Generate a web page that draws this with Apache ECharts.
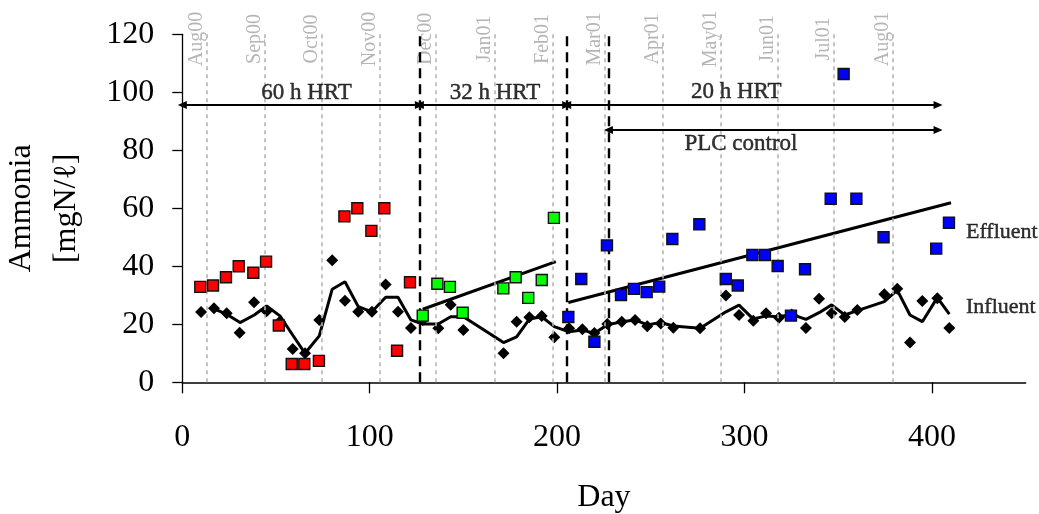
<!DOCTYPE html>
<html>
<head>
<meta charset="utf-8">
<script src="https://cdn.jsdelivr.net/npm/echarts@6/dist/echarts.min.js"></script>
<style>
  html, body { margin: 0; padding: 0; background: #fff; }
  #chart { width: 1039px; height: 514px; }
</style>
</head>
<body>
<div id="chart"></div>
<script>
// Influent ammonia samples [day, mgN/l]
const influentPoints = [
  [10, 24.2], [16.9, 25.5], [23.7, 23.8], [30.6, 17.1], [38.3, 27.6], [45, 24.5], [52.1, 21],
  [58.9, 11.5], [65.5, 10], [73.1, 21.5], [80, 42.1], [86.8, 28.1], [93.9, 24.3], [101.2, 24.3],
  [108.5, 33.7], [115.1, 24.3], [122, 18.7],
  [128.3, 21.5], [136.6, 18.6], [143.2, 26.7], [150, 18], [171.4, 10], [178.4, 20.9], [185.2, 22.4],
  [191.8, 22.9], [198.5, 15.5],
  [206.4, 18.6], [213.5, 18.3], [219.9, 17], [226.8, 20.1], [234.5, 20.9], [241.6, 21.5], [248.1, 19.3],
  [255.3, 20.3], [262, 18.8], [276.3, 18.6], [290.1, 29.9], [297.1, 23.2], [304.7, 21.2], [311.5, 23.8],
  [318.4, 22.3], [325.2, 23.4], [332.8, 18.7], [339.8, 28.8], [346.5, 23.8], [353.5, 22.5], [360.2, 24.9],
  [374.6, 30.4], [381.5, 32.3], [388.3, 13.7], [394.9, 28], [402.9, 29], [409.3, 18.7]
];

// Influent moving-average curve [day, mgN/l]
const influentAverage = [
  [16.9, 25.3], [23.7, 23.5], [30.8, 20.6], [38.4, 23.2], [45, 26.3], [52.1, 22.9], [58.9, 16.3],
  [65.5, 10], [73.1, 16], [80, 32.1], [86.8, 34.7], [93.9, 26.1], [101.2, 24.3], [108.5, 29.3],
  [115.1, 29.3], [122, 21.5], [128.3, 20.1], [136.6, 20.1], [143.2, 22.6], [150, 22.6], [171.4, 13.7],
  [178.4, 15.7], [185.2, 21.8], [191.8, 22.6], [198.5, 19.2], [206.4, 17.4], [213.5, 18], [219.9, 16.9],
  [226.8, 19.8], [234.5, 20.9], [241.6, 21.5], [248.1, 19.8], [255.3, 20.6], [262, 19.4], [276.3, 18.6],
  [290.1, 24.3], [297.1, 26.6], [304.7, 21.8], [311.5, 22.9], [318.4, 22.6], [325.2, 23.4], [332.8, 21.7],
  [339.8, 24], [346.5, 26.7], [353.5, 23.2], [360.2, 24.7], [374.6, 27.8], [381.5, 31.8], [388.3, 23.2],
  [394.9, 20.9], [402.9, 29.2], [409.3, 23.5]
];

// Effluent ammonia per operating period [day, mgN/l]
const effluent60h = [
  [9.6, 32.9], [16.4, 33.4], [23.3, 36.2], [30.1, 40], [37.9, 37.8], [44.7, 41.6], [51.5, 19.6],
  [58.4, 6.3], [65.1, 6.3], [72.9, 7.4], [86.5, 57.2], [93.4, 60], [100.9, 52.2], [107.8, 60],
  [114.6, 10.9], [121.5, 34.5]
];
const effluent32h = [
  [128.3, 23], [136.1, 34], [142.8, 32.9], [149.6, 24], [171.3, 32.4], [177.9, 36.2], [184.6, 29.1],
  [191.8, 35.3], [198.3, 56.7]
];
const effluent20h = [
  [206, 22.5], [212.9, 35.6], [219.9, 14], [226.6, 47.2], [234.1, 30.1], [241, 32.2], [247.8, 31.1],
  [254.5, 33], [261.5, 49.4], [275.9, 54.5], [290, 35.6], [296.4, 33.4], [304.2, 43.9], [310.9, 43.9],
  [317.7, 40.1], [324.8, 23], [332.3, 39], [346, 63.3], [352.9, 106.3], [359.7, 63.3], [374.2, 50],
  [402.3, 46.1], [409.1, 55]
];

// Linear effluent trends
const trend32h = [[128.3, 25.2], [199.3, 41.6]];
const trend20h = [[206, 27.5], [410.2, 61.9]];

// Start of each calendar month (day number) and its tag
const monthDays = [13, 44, 74.6, 105.5, 135.2, 166.9, 197.7, 225.6, 256.3, 287.3, 317.7, 347.8, 379.1];
const monthNames = ['Aug00', 'Sep00', 'Oct00', 'Nov00', 'Dec00', 'Jan01', 'Feb01', 'Mar01',
                    'Apr01', 'May01', 'Jun01', 'Jul01', 'Aug01'];
const monthTagLevel = 118.4;

// Period boundaries (day) and period spans [from day, to day, level]
const phaseBounds = [126.5, 205.1, 227.4];
const phaseSpans = [[0, 126.5, 95.6], [126.5, 205.1, 95.6], [205.1, 403.3, 95.6], [227.4, 403.3, 87]];

// Period captions [day, level] and their texts
const captionAnchors = [[66.3, 99.9], [166.9, 99.9], [295.6, 100.1], [298.1, 82.3]];
const captionTexts = ['60 h HRT', '32 h HRT', '20 h HRT', 'PLC control'];

// Series tags at the right [day, level]
const seriesTagAnchors = [[418.2, 51.9], [418.2, 26]];
const seriesTagTexts = ['Effluent', 'Influent'];

const xTicks = [0, 100, 200, 300, 400];

const SERIF = "'Liberation Serif', 'Times New Roman', 'DejaVu Serif', serif";

const chart = echarts.init(document.getElementById('chart'), null, { renderer: 'canvas' });

function squares(data, color) {
  return {
    type: 'scatter',
    data: data,
    symbol: 'rect',
    symbolSize: 11,
    itemStyle: { color: color, borderColor: '#111', borderWidth: 1.4, opacity: 1 },
    z: 5
  };
}

function textMarks(anchors, texts, labelCfg) {
  return {
    type: 'scatter',
    data: anchors.map((a, i) => ({ value: a, name: texts[i] })),
    symbolSize: 1,
    itemStyle: { color: 'rgba(0,0,0,0)' },
    silent: true,
    z: 6,
    label: Object.assign({
      show: true,
      formatter: p => p.name,
      color: '#000',
      textBorderColor: '#000',
      textBorderWidth: 0.45,
      fontFamily: SERIF
    }, labelCfg)
  };
}

chart.setOption({
  animation: false,
  backgroundColor: '#fff',
  grid: {
    left: 182.3, right: 13.4, top: 34.3, bottom: 131.7,
    containLabel: false, outerBoundsMode: 'none'
  },
  xAxis: {
    type: 'value',
    min: 0, max: 450, interval: 100,
    name: 'Day',
    nameLocation: 'middle',
    nameGap: 99,
    nameMoveOverlap: false,
    nameTextStyle: { fontFamily: SERIF, fontSize: 32, color: '#000' },
    axisLine: { show: true, onZero: false, lineStyle: { color: '#000', width: 1.5 } },
    axisTick: { show: true, inside: false, length: 11, customValues: xTicks, lineStyle: { color: '#000', width: 1.3 } },
    axisLabel: { show: true, margin: 39, customValues: xTicks, fontFamily: SERIF, fontSize: 32, color: '#000' },
    splitLine: { show: false }
  },
  yAxis: {
    type: 'value',
    min: 0, max: 120, interval: 20,
    name: 'Ammonia\n[mgN/\u2113]',
    nameLocation: 'middle',
    nameRotate: 90,
    nameGap: 93,
    nameMoveOverlap: false,
    nameTextStyle: { fontFamily: SERIF, fontSize: 32, lineHeight: 45, color: '#000', align: 'center' },
    axisLine: { show: true, lineStyle: { color: '#000', width: 1.3 } },
    axisTick: { show: true, inside: false, length: 10, lineStyle: { color: '#000', width: 1.3 } },
    axisLabel: { show: true, margin: 28, fontFamily: SERIF, fontSize: 32, color: '#000' },
    splitLine: { show: false }
  },
  series: [
    // month gridlines and rotated month tags
    {
      type: 'scatter',
      data: monthDays.map((d, i) => ({ value: [d, monthTagLevel], name: monthNames[i] })),
      symbolSize: 1,
      itemStyle: { color: 'rgba(0,0,0,0)' },
      silent: true,
      z: 1,
      label: {
        show: true,
        formatter: p => p.name,
        position: 'inside',
        rotate: 90,
        align: 'center',
        verticalAlign: 'bottom',
        fontFamily: SERIF,
        fontSize: 20,
        color: '#a3a3a3'
      },
      markLine: {
        silent: true,
        symbol: 'none',
        label: { show: false },
        lineStyle: { color: '#b5b5b5', width: 1.6, type: [4, 4] },
        data: monthDays.map(d => ({ xAxis: d }))
      }
    },
    // period boundaries and spans
    {
      type: 'line',
      data: [],
      z: 3,
      markLine: {
        silent: true,
        symbol: 'none',
        label: { show: false },
        lineStyle: { color: '#000', width: 2.4, type: [10, 6] },
        data: phaseBounds.map(d => ({ xAxis: d }))
      }
    },
    {
      type: 'line',
      data: [],
      z: 3,
      markLine: {
        silent: true,
        symbol: ['triangle', 'triangle'],
        symbolSize: [8, 9],
        label: { show: false },
        lineStyle: { color: '#000', width: 2, type: 'solid' },
        data: phaseSpans.map(s => [{ coord: [s[0], s[2]] }, { coord: [s[1], s[2]] }])
      }
    },
    // influent
    {
      type: 'line',
      data: influentAverage,
      showSymbol: false,
      lineStyle: { color: '#000', width: 3 },
      z: 4
    },
    {
      type: 'scatter',
      data: influentPoints,
      symbol: 'diamond',
      symbolSize: 12,
      itemStyle: { color: '#000', opacity: 1 },
      z: 4
    },
    // effluent
    {
      type: 'line',
      data: trend32h,
      showSymbol: false,
      lineStyle: { color: '#000', width: 3 },
      z: 4
    },
    {
      type: 'line',
      data: trend20h,
      showSymbol: false,
      lineStyle: { color: '#000', width: 3 },
      z: 4
    },
    squares(effluent60h, '#ff0000'),
    squares(effluent32h, '#00ff00'),
    squares(effluent20h, '#0000ff'),
    // captions
    textMarks(captionAnchors, captionTexts, {
      position: 'inside', align: 'center', verticalAlign: 'middle', fontSize: 23
    }),
    textMarks(seriesTagAnchors, seriesTagTexts, {
      position: 'inside', align: 'left', verticalAlign: 'middle', fontSize: 22
    })
  ]
});
</script>
</body>
</html>
